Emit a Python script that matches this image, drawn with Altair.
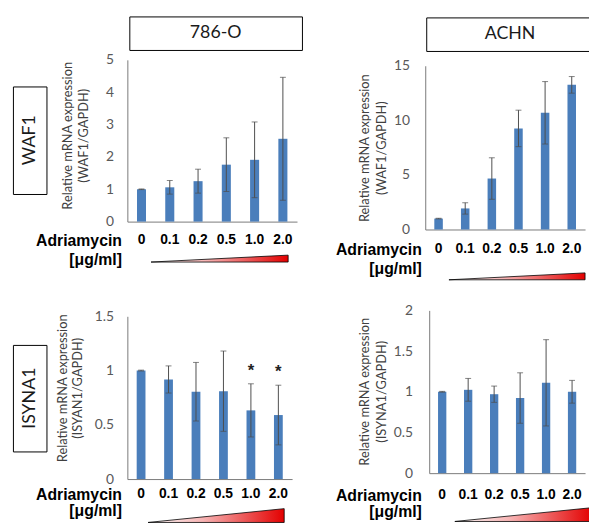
import altair as alt
import pandas as pd

# ---------------- data ----------------
doses = ["0", "0.1", "0.2", "0.5", "1.0", "2.0"]
cell_lines = ["786-O", "ACHN"]
genes = ["WAF1", "ISYNA1"]

waf1_786o_mean = [1.0, 1.06, 1.25, 1.76, 1.91, 2.56]
waf1_786o_err = [0.01, 0.21, 0.37, 0.83, 1.17, 1.90]

waf1_achn_mean = [1.0, 1.93, 4.67, 9.26, 10.69, 13.25]
waf1_achn_err = [0.03, 0.52, 1.90, 1.67, 2.86, 0.76]

isyna1_786o_mean = [1.0, 0.918, 0.805, 0.81, 0.633, 0.59]
isyna1_786o_err = [0.004, 0.125, 0.27, 0.37, 0.245, 0.275]
isyna1_786o_sig = ["", "", "", "", "*", "*"]

isyna1_achn_mean = [1.0, 1.024, 0.97, 0.923, 1.11, 1.0]
isyna1_achn_err = [0.005, 0.14, 0.10, 0.31, 0.53, 0.14]

ramp = [0.0, 2.0]  # Adriamycin concentration ramp (triangle)

BLUE = "#4a7ebb"
ERR = "#4d4d4d"
AX = "#7a7a7a"

one = pd.DataFrame({"k": [0]})


def panel(mean, err, sig, xr, yr, ydom, yvals, yoff, xoff, ytitle,
          ytx, yty, ylh, ylp, xlp, xtx, xty, xlh):
    df = pd.DataFrame({"dose": doses, "mean": mean, "err": err,
                       "sig": sig if sig else [""] * len(doses)})
    df["lo"] = df["mean"] - df["err"]
    df["hi"] = df["mean"] + df["err"]
    xs = alt.Scale(domain=doses, range=xr, paddingInner=0.68, paddingOuter=0.34)
    ys = alt.Scale(domain=ydom, range=yr, nice=False, zero=True)
    xaxis = alt.Axis(orient="bottom", offset=xoff, labelAngle=0, ticks=False, tickSize=0,
                     labelFont="Liberation Sans", labelFontWeight="bold", labelFontSize=14,
                     labelColor="black", labelPadding=xlp, labelOverlap=False,
                     domainColor=AX, domainWidth=1,
                     title=["Adriamycin", "[μg/ml]"], titleFont="Liberation Sans",
                     titleFontWeight="bold", titleFontSize=16, titleColor="black",
                     titleAlign="right", titleBaseline="alphabetic", titleAngle=0,
                     titleX=xtx, titleY=xty, titleLineHeight=xlh)
    yaxis = alt.Axis(orient="left", offset=yoff, values=yvals, format="~g", ticks=False,
                     tickSize=0, labelFont="Lato", labelFontSize=14, labelColor="#595959",
                     labelPadding=ylp, domainColor=AX, domainWidth=1, grid=False,
                     title=ytitle, titleFont="Lato", titleFontSize=13,
                     titleFontWeight="normal", titleColor="#404040", titleAngle=270,
                     titleAlign="center", titleBaseline="alphabetic",
                     titleX=ytx, titleY=yty, titleLineHeight=ylh)
    base = alt.Chart(df)
    x = alt.X("dose:N", sort=doses, scale=xs, axis=xaxis)
    bars = base.mark_bar(color=BLUE).encode(
        x=x, y=alt.Y("mean:Q", scale=ys, axis=yaxis))
    rules = base.mark_rule(color=ERR, strokeWidth=1).encode(
        x=x, y=alt.Y("lo:Q", scale=ys, axis=yaxis), y2="hi:Q")
    cap_hi = base.mark_tick(color=ERR, size=6, thickness=1, orient="horizontal").encode(
        x=x, y=alt.Y("hi:Q", scale=ys, axis=yaxis))
    cap_lo = base.mark_tick(color=ERR, size=6, thickness=1, orient="horizontal").encode(
        x=x, y=alt.Y("lo:Q", scale=ys, axis=yaxis))
    layers = [bars, rules, cap_hi, cap_lo]
    if sig:
        stars = base.mark_text(font="Liberation Sans", fontWeight="bold", fontSize=17,
                               color="#222222", baseline="middle", dy=-13).encode(
            x=x, y=alt.Y("hi:Q", scale=ys, axis=yaxis), text="sig:N")
        layers.append(stars)
    return alt.layer(*layers)


grad = alt.Gradient(
    gradient="linear",
    stops=[alt.GradientStop(color="#ffffff", offset=0),
           alt.GradientStop(color="#f7b4b4", offset=0.4),
           alt.GradientStop(color="#e30000", offset=1)],
    x1=0, x2=1, y1=0, y2=0)


def triangle(xr, yr):
    df = pd.DataFrame({"c": ramp})
    return alt.Chart(df).mark_area(color=grad, stroke="black", strokeWidth=0.8).encode(
        x=alt.X("c:Q", scale=alt.Scale(domain=ramp, range=xr, nice=False, zero=False), axis=None),
        y=alt.Y("c:Q", scale=alt.Scale(domain=ramp, range=yr, nice=False, zero=True), axis=None))


def box(x1, x2, y1, y2):
    return alt.Chart(one).mark_rect(fill="white", stroke="black", strokeWidth=1).encode(
        x=alt.value(x1), x2=alt.value(x2), y=alt.value(y1), y2=alt.value(y2))


def label(txt, x, y, angle=0):
    return alt.Chart(one).mark_text(text=txt, font="Lato", fontSize=18, angle=angle,
                                    align="center", baseline="middle", color="#1a1a1a").encode(
        x=alt.value(x), y=alt.value(y))


decor = [
    box(123.5, 298.5, 5.5, 39.5), label(cell_lines[0], 210.5, 22),
    box(424.5, 660, 6.5, 40.5), label(cell_lines[1], 509, 23),
    box(5.5, 39.5, 76.5, 185.5), label(genes[0], 22, 130.5, 270),
    box(5.5, 39.5, 338.5, 446.5), label(genes[1], 22, 392, 270),
]

panels = [
    panel(waf1_786o_mean, waf1_786o_err, None, [121, 293], [213, 49], [0, 5],
          [0, 1, 2, 3, 4, 5], -121, -303,
          ["Relative mRNA expression", "(WAF1/GAPDH)"], -57, 125.5, 17, 14,
          11, 115, 24, 19),
    panel(waf1_achn_mean, waf1_achn_err, None, [423, 585], [221, 55], [0, 15],
          [0, 5, 10, 15], -423, -295,
          ["Relative mRNA expression", "(WAF1/GAPDH)"], -58, 138, 18, 16,
          12, 419, 25, 20),
    panel(isyna1_786o_mean, isyna1_786o_err, isyna1_786o_sig, [121, 288], [474, 309],
          [0, 1.5], [0, 0.5, 1, 1.5], -121, -42,
          ["Relative mRNA expression", "(ISYAN1/GAPDH)"], -62, 381.5, 16, 14,
          8, 115, 21, 16),
    panel(isyna1_achn_mean, isyna1_achn_err, None, [427, 585], [468, 303], [0, 2],
          [0, 0.5, 1, 1.5, 2], -427, -48,
          ["Relative mRNA expression", "(ISYNA1/GAPDH)"], -62, 385, 18, 17,
          15, 419, 28, 16),
]

tris = [
    triangle([145, 284], [254, 247]),
    triangle([447, 585], [272, 265]),
    triangle([142, 280], [518, 504]),
    triangle([453, 592], [517, 503]),
]

chart = alt.layer(*decor, *panels, *tris).resolve_scale(
    x="independent", y="independent"
).properties(
    width=589, height=516, padding=0,
    autosize=alt.AutoSizeParams(type="none"),
).configure_view(stroke="transparent").configure_axis(grid=False)

chart.save("out.html", embed_options={"renderer": "svg", "actions": False})
